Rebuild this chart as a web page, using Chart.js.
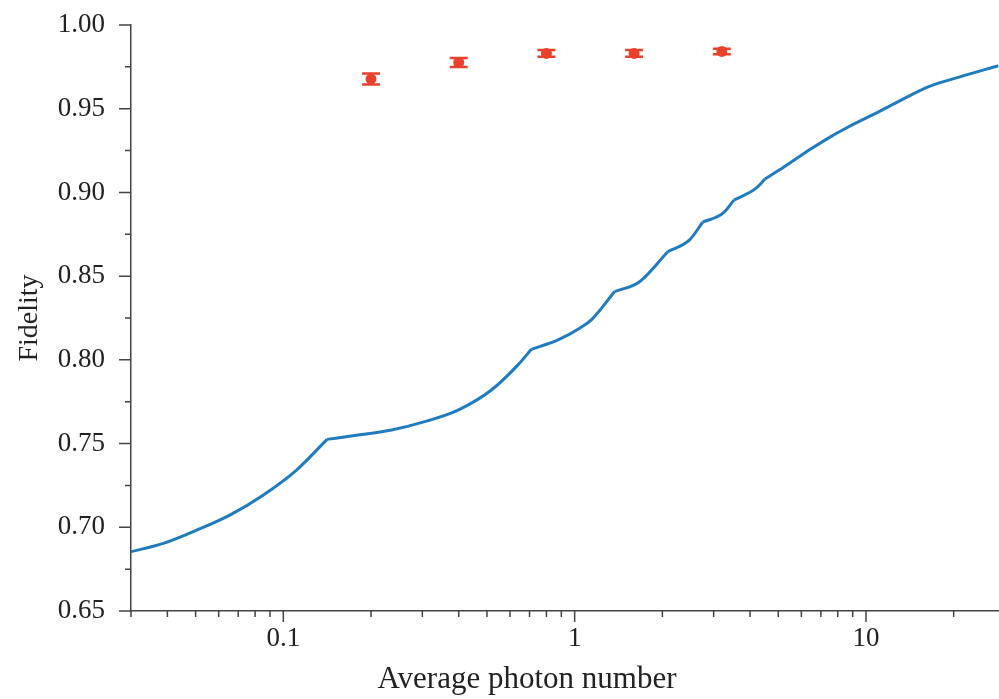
<!DOCTYPE html>
<html>
<head>
<meta charset="utf-8">
<script src="https://cdn.jsdelivr.net/npm/chart.js@4/dist/chart.umd.min.js"></script>
<style>
  html, body { margin: 0; padding: 0; background: #fff; overflow: hidden; }
  #wrap { width: 999px; height: 699px; overflow: hidden; }
</style>
</head>
<body>
<div id="wrap"><canvas id="fidelityChart" width="1004" height="699"></canvas></div>
<script>
// theory curve
const curveX = [0.030, 0.0387, 0.0504, 0.0655, 0.0852, 0.1110, 0.1413, 0.1806, 0.235, 0.3058,
                0.3978, 0.5178, 0.639, 0.710, 0.877, 1.040, 1.141, 1.372, 1.671, 2.09,
                2.48, 2.75, 3.23, 3.52, 4.20, 4.50, 5.05, 5.91, 6.40, 7.60, 8.5, 11.3,
                13.5, 16.5, 21.0, 28.5];
const curveY = [0.6854, 0.6904, 0.6983, 0.7073, 0.7192, 0.7342, 0.7525, 0.7551, 0.7581, 0.7631,
                0.7700, 0.7820, 0.7970, 0.8063, 0.8119, 0.8189, 0.8239, 0.8408, 0.8467, 0.8647,
                0.8717, 0.8822, 0.8876, 0.8954, 0.9026, 0.9080, 0.9135, 0.9215, 0.9255, 0.9335,
                0.9382, 0.9490, 0.9560, 0.9633, 0.9690, 0.9757];
// where the curve has a corner
const kinkX = [0.1413, 0.710, 1.372, 2.09, 2.75, 3.52, 4.50];

// measured points with error bars
const measX = [0.2, 0.4, 0.8, 1.6, 3.2];
const measY = [0.9677, 0.9776, 0.9830, 0.9830, 0.9842];
const measErr = [0.0033, 0.0027, 0.0020, 0.0020, 0.0016];

const xLabels = [0.1, 1, 10];
const xTitle = 'Average photon number';

const axisColor = '#444';
const textColor = '#222';
const red = '#e8412c';
const blue = '#1f7cc1';
const serif = 'Liberation Serif';

function isNice(v) {
    const p = Math.pow(10, Math.floor(Math.log10(v) + 1e-9));
    const s = v / p;
    return Math.abs(s - Math.round(s)) < 1e-6;
}

// split the curve at the corners so each smooth piece can be interpolated
function curvePieces() {
    const pieces = [];
    let cur = [];
    curveX.forEach((x, i) => {
        cur.push({ x: x, y: curveY[i] });
        if (kinkX.includes(x)) {
            pieces.push(cur);
            cur = [{ x: x, y: curveY[i] }];
        }
    });
    pieces.push(cur);
    return pieces.map(p => ({
        type: 'line',
        data: p,
        borderColor: blue,
        borderWidth: 3,
        pointRadius: 0,
        cubicInterpolationMode: 'monotone',
        borderJoinStyle: 'round',
        fill: false
    }));
}

// tick marks, error bars, x title
const extras = {
    id: 'extras',
    afterDatasetsDraw(chart) {
        const ctx = chart.ctx;
        const xs = chart.scales.x, ys = chart.scales.y;
        ctx.save();

        // error bars
        ctx.strokeStyle = red;
        ctx.lineWidth = 2.5;
        measX.forEach((x, i) => {
            const px = xs.getPixelForValue(x);
            const top = ys.getPixelForValue(measY[i] + measErr[i]);
            const bot = ys.getPixelForValue(measY[i] - measErr[i]);
            ctx.beginPath();
            ctx.moveTo(px, top); ctx.lineTo(px, bot);
            ctx.moveTo(px - 9, top); ctx.lineTo(px + 9, top);
            ctx.moveTo(px - 9, bot); ctx.lineTo(px + 9, bot);
            ctx.stroke();
        });

        // ticks
        ctx.strokeStyle = axisColor;
        ctx.lineWidth = 1.5;
        ctx.beginPath();
        xs.ticks.forEach(t => {
            if (!isNice(t.value)) return;
            const px = xs.getPixelForValue(t.value);
            const len = xLabels.includes(t.value) ? 11 : 6;
            ctx.moveTo(px, xs.top); ctx.lineTo(px, xs.top + len);
        });
        ys.ticks.forEach(t => {
            const py = ys.getPixelForValue(t.value);
            const major = Math.abs(t.value * 20 - Math.round(t.value * 20)) < 1e-6;
            const len = major ? 12 : 6;
            ctx.moveTo(ys.right, py); ctx.lineTo(ys.right - len, py);
        });
        ctx.stroke();

        // x axis title sits left of the plot centre in the original
        ctx.fillStyle = textColor;
        ctx.font = '31px "' + serif + '"';
        ctx.textAlign = 'center';
        ctx.textBaseline = 'middle';
        ctx.fillText(xTitle, 527, 680);
        ctx.restore();
    }
};

const ctx = document.getElementById('fidelityChart').getContext('2d');
new Chart(ctx, {
    data: {
        datasets: curvePieces().concat([
            {
                type: 'scatter',
                data: measX.map((x, i) => ({ x: x, y: measY[i] })),
                backgroundColor: red,
                borderColor: red,
                pointRadius: 5.5,
                pointBorderWidth: 0
            }
        ])
    },
    options: {
        responsive: false,
        animation: false,
        layout: { padding: { top: 25, left: 0, right: 0, bottom: 0 } },
        plugins: { legend: { display: false }, tooltip: { enabled: false } },
        scales: {
            x: {
                type: 'logarithmic',
                min: 0.03,
                max: 28.5,
                afterFit: s => { s.height = 88; s.paddingLeft = 0; s.paddingRight = 0; },
                grid: { display: false },
                border: { display: true, color: axisColor, width: 1.5 },
                ticks: {
                    autoSkip: false,
                    maxRotation: 0,
                    padding: 4,
                    color: textColor,
                    font: { family: serif, size: 27 },
                    callback: v => xLabels.includes(v) ? String(v) : ''
                },
                title: { display: false }
            },
            y: {
                min: 0.65,
                max: 1.0,
                afterFit: s => { s.width = 131; s.paddingTop = 0; s.paddingBottom = 0; },
                grid: { display: false },
                border: { display: true, color: axisColor, width: 1.5 },
                ticks: {
                    stepSize: 0.025,
                    autoSkip: false,
                    padding: 18,
                    color: textColor,
                    font: { family: serif, size: 27 },
                    callback: v => Math.abs(v * 20 - Math.round(v * 20)) < 1e-6 ? v.toFixed(2) : ''
                },
                title: {
                    display: true,
                    text: 'Fidelity',
                    color: textColor,
                    font: { family: serif, size: 28 },
                    padding: { top: 13, bottom: 0 }
                }
            }
        }
    },
    plugins: [extras]
});
</script>
</body>
</html>
